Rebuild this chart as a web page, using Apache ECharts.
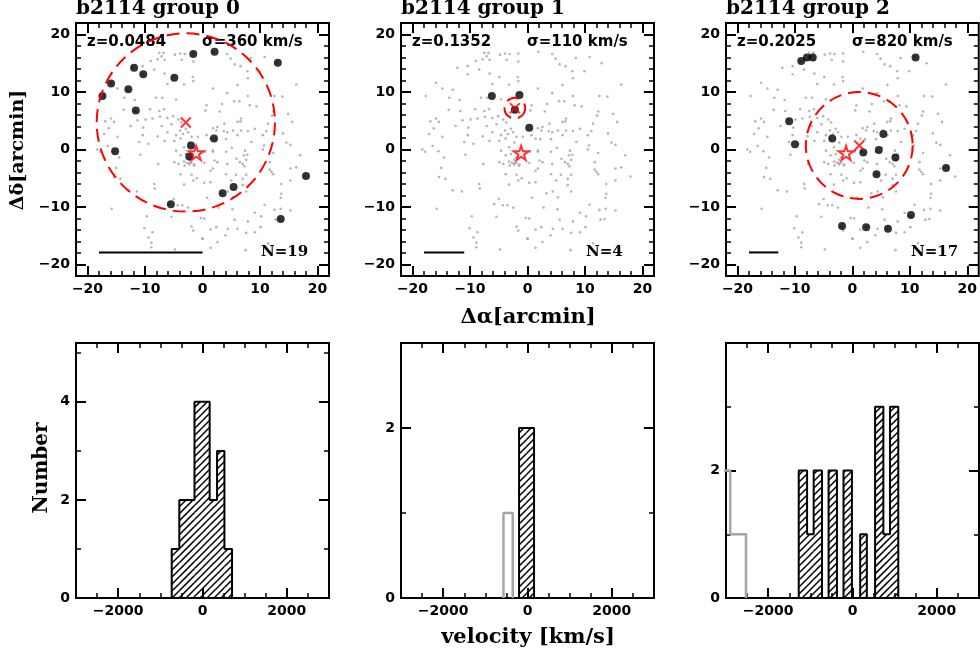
<!DOCTYPE html>
<html>
<head>
<meta charset="utf-8">
<script src="https://cdn.jsdelivr.net/npm/echarts@6/dist/echarts.min.js"></script>
<style>
html, body { margin: 0; padding: 0; background: #fff; }
#main { width: 980px; height: 653px; }
</style>
</head>
<body>
<div id="main"></div>
<script>
// field galaxies around b2114 (offsets in arcmin), same field in all three panels
var fieldGalaxies = [
    [-7.5,16.8],[-6.8,16.8],[-7.1,16.2],[-4.8,16.5],[-3.9,16.7],[-3.1,16.6],[-1.6,16.7],
    [-7.8,15.7],[-9.0,15.4],[-6.6,15.6],[-3.6,15.6],[-1.6,15.3],
    [-12.2,14.2],[-10.4,14.5],[-8.4,13.9],[-10.4,13.1],[-6.6,13.2],[-4.9,12.6],[-1.7,12.6],[-1.6,11.9],
    [-15.9,11.6],[-14.8,10.6],[-13.0,10.4],[-6.1,11.4],[-3.2,11.3],
    [-17.7,9.3],[-13.6,9.0],[-11.8,8.6],[-8.1,9.0],[-7.0,9.0],[-4.6,8.7],
    [-13.7,6.9],[-11.7,6.7],[-9.1,7.0],[-7.5,6.7],[-6.7,7.0],
    [-16.9,4.9],[-15.9,5.4],[-15.4,4.8],[-11.3,5.1],[-9.9,5.2],[-8.7,5.4],[-7.4,5.7],[-6.1,5.5],[-5.1,5.8],[-4.2,5.2],
    [-16.3,3.7],[-12.5,4.1],[-10.3,3.8],[-7.1,4.1],[-5.4,4.4],[-3.7,4.7],[-2.9,3.6],
    [-17.1,2.7],[-14.8,2.2],[-10.4,2.5],[-7.8,2.3],[-6.1,3.0],[-4.6,2.5],[-3.9,3.3],[-3.4,2.7],[-2.5,3.0],[-1.9,2.2],[-0.8,2.2],
    [-18.3,0.0],[-16.5,0.6],[-11.0,1.3],[-9.4,1.0],[-6.6,1.5],[-4.9,1.5],[-3.8,1.9],[-2.3,1.2],[-3.2,0.4],
    [1.9,17.0],[4.3,16.6],[4.9,15.8],[5.6,14.8],[6.6,14.5],[8.4,15.9],[10.8,16.1],[12.9,15.0],
    [7.8,13.6],[9.9,13.6],[7.9,12.4],[6.1,11.2],[1.8,10.6],[16.3,11.3],
    [4.3,9.8],[7.9,9.3],[12.5,9.3],[13.9,9.2],
    [0.7,7.7],[3.4,7.9],[5.5,8.4],[6.4,8.4],[8.2,7.7],[9.4,7.5],[12.3,6.6],[12.1,5.9],[14.9,6.2],
    [0.5,6.8],[3.0,6.6],[6.7,5.4],[6.6,4.9],[6.1,4.8],[3.8,4.5],[11.4,4.5],[15.6,4.8],
    [9.1,3.6],[1.8,3.7],[2.4,3.3],[2.6,3.9],[3.7,3.2],[4.3,3.0],[5.3,3.3],[6.7,3.3],[7.9,3.2],[11.1,3.2],[14.0,2.8],
    [0.7,2.5],[1.4,1.9],[2.2,1.8],[4.1,1.8],[6.1,2.5],[8.5,1.3],[10.5,2.5],[14.6,1.2],[15.3,0.8],[10.7,0.7],[1.8,-0.2],
    [-17.8,-0.4],[-15.5,-0.3],[-14.5,-1.4],[-10.8,-0.9],[-4.6,-0.2],[-3.8,-1.0],[-2.9,-0.8],[-2.0,-1.4],
    [-4.9,-2.2],[-4.2,-2.5],[-3.2,-2.1],[-2.3,-2.4],[-1.4,-2.6],[-7.7,-2.5],
    [-15.0,-3.2],[-15.4,-4.8],[-14.3,-5.1],[-3.8,-4.3],[-1.9,-4.4],[-1.0,-5.0],[-1.6,-5.4],
    [-8.4,-6.0],[-8.3,-6.8],[-13.0,-7.1],[-11.4,-7.3],[-3.2,-6.1],
    [-5.0,-8.6],[-5.8,-9.5],[-4.3,-9.7],[-3.5,-9.7],[-2.5,-10.1],[-15.8,-10.3],
    [-9.7,-11.6],[-5.4,-11.7],[-10.1,-13.7],[-8.7,-14.4],[-9.4,-15.3],[-1.9,-13.4],[-1.6,-14.1],[0.0,-15.5],
    [-8.9,-16.2],[-8.9,-17.0],[-4.8,-17.4],[-0.3,-11.9],
    [-2.3,-1.8],[-2.7,-2.3],[-3.1,-2.8],[-1.9,-2.3],[-1.5,-2.8],[-2.3,-2.6],
    [0.4,-0.4],[1.8,-0.4],[4.1,-0.4],[5.1,0.3],[7.4,-0.2],[10.5,0.0],[12.3,-0.6],[17.0,-1.0],[7.2,-1.0],
    [0.3,-2.3],[2.1,-1.9],[2.6,-2.2],[4.3,-2.5],[5.9,-1.6],[6.5,-2.2],[7.0,-2.5],[7.6,-1.8],[7.8,-0.9],[7.3,-2.9],
    [11.7,-2.2],[15.3,-3.3],[16.3,-3.1],[17.9,-4.7],[1.4,-3.7],[1.8,-3.3],[4.1,-4.3],[5.8,-4.4],[7.0,-5.1],[7.6,-4.4],
    [12.0,-3.9],[11.7,-3.5],[12.3,-4.3],[0.3,-5.8],[1.4,-5.7],[5.0,-5.4],[7.0,-6.2],[15.3,-5.4],
    [3.3,-7.6],[4.4,-7.3],[5.3,-8.3],[7.6,-7.3],[13.7,-6.0],[13.7,-7.7],[13.6,-8.4],[0.8,-8.4],
    [2.8,-10.1],[5.2,-10.4],[9.1,-11.0],[10.2,-11.6],[12.5,-10.5],[13.6,-10.3],[15.3,-10.6],[10.8,-9.6],
    [0.3,-12.0],[5.6,-12.2],[7.9,-12.5],[12.7,-12.2],[13.4,-12.1],[2.4,-13.5],[1.4,-13.9],[4.4,-13.8],[6.1,-13.8],
    [7.6,-14.5],[9.1,-14.4],[10.1,-13.5],[4.0,-14.9],[0.0,-15.5],[2.6,-16.1],[11.4,-16.3],[1.4,-17.1],[7.5,-17.5]
];

// group members
var group0Members = [
    [-1.6,16.6],[2.1,17.0],[13.1,15.1],[-11.9,14.2],[-10.3,13.1],[-4.9,12.5],[-15.9,11.5],
    [-12.9,10.5],[-17.4,9.3],[-11.6,6.8],[2.0,1.9],[-2.0,0.7],[-2.3,-1.2],[-15.2,-0.3],
    [18.0,-4.6],[5.4,-6.5],[3.5,-7.6],[-5.5,-9.5],[13.6,-12.1]
];
var group1Members = [[-6.2,9.3],[-1.4,9.5],[0.3,3.8],[-2.2,6.9]];
var group2Members = [
    [-8.9,15.4],[-7.9,16.0],[-6.9,16.0],[11.0,16.0],[-11.0,4.9],[-10.0,0.9],[-3.5,1.9],
    [5.4,2.7],[1.9,-0.5],[4.6,-0.1],[7.5,-1.4],[4.2,-4.3],[16.3,-3.2],[10.2,-11.4],
    [-1.8,-13.3],[2.4,-13.5],[6.2,-13.8]
];
var groupMembers = [group0Members, group1Members, group2Members];

var groupCenters = [[-2.9, 4.7], [-2.2, 7.2], [1.2, 0.7]];
var groupRadius = [15.5, 1.8, 9.3];
var clusterCenter = [-1.1, -0.6];
// scale bar end points (x) at y = scaleBarY
var scaleBarX = [[-18.0, 0.0], [-18.0, -11.0], [-18.0, -12.9]];
var scaleBarY = -17.9;

var groupTitles = ['b2114 group 0', 'b2114 group 1', 'b2114 group 2'];
var groupRedshift = ['z=0.0484', 'z=0.1352', 'z=0.2025'];
var groupSigma = ['\u03c3=360 km/s', '\u03c3=110 km/s', '\u03c3=820 km/s'];
var groupN = ['N=19', 'N=4', 'N=17'];

// velocity histograms: bin edges (km/s) and counts
var hist0Edges = [-730, -550, -370, -190, -10, 170, 345, 520, 700];
var hist0Counts = [1, 2, 2, 4, 4, 2, 3, 1];
var hist1Edges = [-200, -22, 155];
var hist1Counts = [2, 2];
var hist2Edges = [-1275, -1077, -921, -723, -567, -369, -213, -14, 182, 340, 536, 732, 889, 1086];
var hist2Counts = [2, 1, 2, 0, 2, 0, 2, 0, 1, 0, 3, 1, 3];
// grey: rejected galaxies
var grey1Edges = [-570, -350];
var grey1Counts = [1];
var grey2Edges = [-3100, -2900, -2525];
var grey2Counts = [2, 1];

var histEdges = [hist0Edges, hist1Edges, hist2Edges];
var histCounts = [hist0Counts, hist1Counts, hist2Counts];
var greyEdges = [null, grey1Edges, grey2Edges];
var greyCounts = [null, grey1Counts, grey2Counts];
var histYMax = [5.2, 3, 4];
var histYMajors = [[0, 2, 4], [0, 2], [0, 2]];
var histYMinors = [[1, 3, 5], [1], [1, 3]];

var posTicksMajor = [-20, -10, 0, 10, 20];
var posTicksMinor = [-18, -16, -14, -12, -8, -6, -4, -2, 2, 4, 6, 8, 12, 14, 16, 18];
var velTicksMajor = [-2000, 0, 2000];
var velTicksMinor = [-2500, -1500, -1000, -500, 500, 1000, 1500, 2500];

var chart = echarts.init(document.getElementById('main'));

var panelLeft = [76, 401, 726];
var panelWidth = 253;

function minusFmt(v) {
    return v < 0 ? '\u2212' + Math.abs(v) : String(v);
}

function stepPoints(edges, counts) {
    var pts = [[edges[0], 0]];
    for (var i = 0; i < counts.length; i++) {
        pts.push([edges[i], counts[i]]);
        pts.push([edges[i + 1], counts[i]]);
    }
    pts.push([edges[edges.length - 1], 0]);
    return pts;
}

function binsOf(edges, counts) {
    var b = [];
    for (var i = 0; i < counts.length; i++) {
        if (counts[i] > 0) b.push([edges[i], edges[i + 1], counts[i]]);
    }
    return b;
}

// diagonal hatching inside each bin, aligned to one global family of lines
function renderHatch(params, api) {
    var a = api.coord([api.value(0), api.value(2)]);
    var b = api.coord([api.value(1), 0]);
    var left = a[0], right = b[0], top = a[1], bottom = b[1];
    var step = 7, children = [];
    var c0 = Math.ceil((left + top) / step) * step;
    for (var c = c0; c <= right + bottom; c += step) {
        var xs = Math.max(left, c - bottom), xe = Math.min(right, c - top);
        if (xe > xs) {
            children.push({
                type: 'line',
                shape: { x1: xs, y1: c - xs, x2: xe, y2: c - xe },
                style: { stroke: '#000', lineWidth: 1.5 }
            });
        }
    }
    return { type: 'group', children: children };
}

var grids = [], xAxes = [], yAxes = [], series = [], graphics = [];

// two axes per side: long major ticks (+labels on first side) and short minor ticks
function pushAxes(list, gridIndex, min, max, sides, majors, minors, labels) {
    var first = list.length;
    sides.forEach(function (side, k) {
        list.push({
            type: 'value', gridIndex: gridIndex, position: side, min: min, max: max,
            axisLine: { show: false, onZero: false }, splitLine: { show: false },
            axisTick: { show: true, inside: true, length: 10, customValues: majors,
                lineStyle: { color: '#000', width: 2 } },
            axisLabel: k === 0 ? {
                show: true, customValues: labels, margin: 6, formatter: minusFmt,
                color: '#000', fontFamily: 'DejaVu Sans', fontWeight: 'bold', fontSize: 14
            } : { show: false }
        });
        list.push({
            type: 'value', gridIndex: gridIndex, position: side, min: min, max: max,
            axisLine: { show: false, onZero: false }, splitLine: { show: false },
            axisTick: { show: true, inside: true, length: 5, customValues: minors,
                lineStyle: { color: '#000', width: 1.5 } },
            axisLabel: { show: false }
        });
    });
    return first;
}

function text(x, y, str, font, align, rot) {
    graphics.push({
        type: 'text', x: x, y: y, rotation: rot || 0,
        style: { text: str, font: font, fill: '#000', textAlign: align || 'left', textVerticalAlign: 'middle' }
    });
}

// top row: sky positions
for (var p = 0; p < 3; p++) {
    var gi = grids.length;
    grids.push({ left: panelLeft[p], top: 23, width: panelWidth, height: 253, show: true,
        borderColor: '#000', borderWidth: 2, backgroundColor: 'transparent' });
    var xi = pushAxes(xAxes, gi, -22, 22, ['bottom', 'top'], posTicksMajor, posTicksMinor, posTicksMajor);
    var yi = pushAxes(yAxes, gi, -22, 22, ['left', 'right'], posTicksMajor, posTicksMinor, posTicksMajor);

    series.push({
        type: 'scatter', xAxisIndex: xi, yAxisIndex: yi, data: fieldGalaxies,
        symbolSize: 2.6, itemStyle: { color: '#a3a3a3' }, silent: true, z: 2
    });
    series.push({
        type: 'scatter', xAxisIndex: xi, yAxisIndex: yi, data: groupMembers[p],
        symbolSize: 8, itemStyle: { color: '#000' }, silent: true, z: 3
    });
    series.push({
        type: 'custom', xAxisIndex: xi, yAxisIndex: yi, data: [[groupCenters[p][0], groupCenters[p][1], groupRadius[p]]],
        silent: true, z: 4, clip: true,
        renderItem: function (params, api) {
            var c = api.coord([api.value(0), api.value(1)]);
            var s = api.size([api.value(2), api.value(2)]);
            return {
                type: 'circle',
                shape: { cx: c[0], cy: c[1], r: s[0] },
                style: { fill: 'none', stroke: '#ff0000', lineWidth: 2, lineDash: [13, 7] }
            };
        }
    });
    series.push({
        type: 'scatter', xAxisIndex: xi, yAxisIndex: yi, data: [groupCenters[p]],
        symbol: 'path://M0,0L10,10M10,0L0,10', symbolSize: 10,
        itemStyle: { color: 'none', borderColor: '#ff0000', borderWidth: 2 }, silent: true, z: 5
    });
    series.push({
        type: 'scatter', xAxisIndex: xi, yAxisIndex: yi, data: [clusterCenter],
        symbol: 'path://M50,0L61,35L98,35L68,57L79,91L50,70L21,91L32,57L2,35L39,35Z',
        symbolSize: 15, symbolKeepAspect: true,
        itemStyle: { color: 'rgba(255,255,255,0)', borderColor: '#ff0000', borderWidth: 2 }, silent: true, z: 5
    });
    series.push({
        type: 'line', xAxisIndex: xi, yAxisIndex: yi,
        data: [[scaleBarX[p][0], scaleBarY], [scaleBarX[p][1], scaleBarY]],
        symbol: 'none', lineStyle: { color: '#000', width: 2 }, silent: true, z: 3
    });

    var L = panelLeft[p];
    text(L, 9, groupTitles[p], 'bold 20px "DejaVu Serif"');
    text(L + 11, 42, groupRedshift[p], 'bold 15px "DejaVu Sans"');
    text(L + 126, 42, groupSigma[p], 'bold 15px "DejaVu Sans"');
    text(L + 185, 252, groupN[p], 'bold 15px "DejaVu Serif"');
}

// bottom row: velocity histograms
for (var q = 0; q < 3; q++) {
    var gj = grids.length;
    grids.push({ left: panelLeft[q], top: 343, width: panelWidth, height: 255, show: true,
        borderColor: '#000', borderWidth: 2, backgroundColor: 'transparent' });
    var hx = pushAxes(xAxes, gj, -3000, 3000, ['bottom', 'top'], velTicksMajor, velTicksMinor, velTicksMajor);
    var hy = pushAxes(yAxes, gj, 0, histYMax[q], ['left', 'right'], histYMajors[q], histYMinors[q], histYMajors[q]);

    if (greyEdges[q]) {
        series.push({
            type: 'line', xAxisIndex: hx, yAxisIndex: hy, data: stepPoints(greyEdges[q], greyCounts[q]),
            symbol: 'none', lineStyle: { color: '#a6a6a6', width: 2.5 }, silent: true, clip: true, z: 2
        });
    }
    series.push({
        type: 'custom', xAxisIndex: hx, yAxisIndex: hy, data: binsOf(histEdges[q], histCounts[q]),
        renderItem: renderHatch, silent: true, clip: true, z: 3
    });
    series.push({
        type: 'line', xAxisIndex: hx, yAxisIndex: hy, data: stepPoints(histEdges[q], histCounts[q]),
        symbol: 'none', lineStyle: { color: '#000', width: 2 }, silent: true, clip: true, z: 4
    });
}

// axis titles
text(18, 150, '\u0394\u03b4[arcmin]', 'bold 19px "DejaVu Serif"', 'center', Math.PI / 2);
text(528, 318, '\u0394\u03b1[arcmin]', 'bold 21px "DejaVu Serif"', 'center');
text(42, 468, 'Number', 'bold 20px "DejaVu Serif"', 'center', Math.PI / 2);
text(528, 638, 'velocity [km/s]', 'bold 21px "DejaVu Serif"', 'center');

chart.setOption({
    animation: false,
    backgroundColor: '#fff',
    grid: grids,
    xAxis: xAxes,
    yAxis: yAxes,
    series: series,
    graphic: { elements: graphics }
});
</script>
</body>
</html>
